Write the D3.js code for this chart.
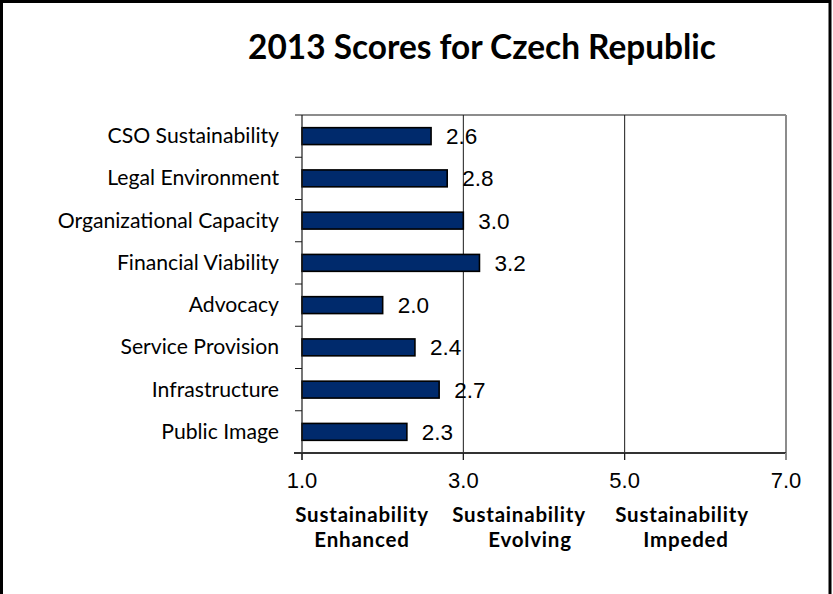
<!DOCTYPE html>
<html>
<head>
<meta charset="utf-8">
<script src="https://cdn.jsdelivr.net/npm/d3@7"></script>
<style>
  html, body { margin: 0; padding: 0; background: #fff; }
  svg { display: block; }
</style>
</head>
<body>
<svg id="chart" width="833" height="594"></svg>
<script>
// Dimension scores, top to bottom
const categories = [
  "CSO Sustainability",
  "Legal Environment",
  "Organizational Capacity",
  "Financial Viability",
  "Advocacy",
  "Service Provision",
  "Infrastructure",
  "Public Image"
];
const scores = [2.6, 2.8, 3.0, 3.2, 2.0, 2.4, 2.7, 2.3];
const xTicks = [1, 3, 5, 7];
const gridValues = [3, 5];
const zoneLabels = [
  ["Sustainability", "Enhanced"],
  ["Sustainability", "Evolving"],
  ["Sustainability", "Impeded"]
];
const titleText = "2013 Scores for Czech Republic";

const svg = d3.select("#chart");
const W = 833, H = 594;
const plot = { left: 302, right: 786, top: 115, bottom: 453 };

// Outer frame (open at the bottom edge)
svg.append("rect")
  .attr("x", 1.5).attr("y", 1.5)
  .attr("width", W - 4.5).attr("height", H + 10)
  .attr("fill", "#fff").attr("stroke", "#000").attr("stroke-width", 3);

// Title
svg.append("text")
  .attr("x", 482).attr("y", 59)
  .attr("text-anchor", "middle")
  .style("font-family", "Lato, 'Open Sans', sans-serif")
  .style("font-weight", 700)
  .style("font-size", "33.4px")
  .attr("fill", "#000")
  .text(titleText);

const x = d3.scaleLinear().domain([1, 7]).range([plot.left, plot.right]);
const y = d3.scaleBand().domain(categories)
  .range([plot.top, plot.bottom])
  .paddingInner(0.6).paddingOuter(0.3);

// Plot frame: top and right edges in grey
svg.append("line")
  .attr("x1", plot.left).attr("x2", plot.right)
  .attr("y1", plot.top).attr("y2", plot.top)
  .attr("stroke", "#8c8c8c").attr("stroke-width", 2);
svg.append("line")
  .attr("x1", plot.right).attr("x2", plot.right)
  .attr("y1", plot.top).attr("y2", plot.bottom + 7)
  .attr("stroke", "#8c8c8c").attr("stroke-width", 2);

// Vertical gridlines
svg.selectAll("line.grid").data(gridValues).enter().append("line")
  .attr("class", "grid")
  .attr("x1", d => x(d)).attr("x2", d => x(d))
  .attr("y1", plot.top).attr("y2", plot.bottom + 7)
  .attr("stroke", "#1a1a1a").attr("stroke-width", 1);

// Bars
svg.selectAll("rect.bar").data(scores).enter().append("rect")
  .attr("class", "bar")
  .attr("x", x(1))
  .attr("y", (d, i) => y(categories[i]))
  .attr("width", d => x(d) - x(1))
  .attr("height", y.bandwidth())
  .attr("fill", "#002a6c")
  .attr("stroke", "#000").attr("stroke-width", 1.6);

// Value labels
svg.selectAll("text.val").data(scores).enter().append("text")
  .attr("class", "val")
  .attr("x", d => x(d) + 15)
  .attr("y", (d, i) => y(categories[i]) + y.bandwidth() / 2 + 8)
  .style("font-family", "'Liberation Sans', Arial, sans-serif")
  .style("font-size", "22.5px")
  .attr("fill", "#000")
  .text(d => d.toFixed(1));

// Category axis
const bounds = d3.range(categories.length + 1).map(i => plot.top + i * (plot.bottom - plot.top) / categories.length);
svg.selectAll("line.ytick").data(bounds).enter().append("line")
  .attr("class", "ytick")
  .attr("x1", plot.left - 7).attr("x2", plot.left)
  .attr("y1", d => d).attr("y2", d => d)
  .attr("stroke", "#1a1a1a").attr("stroke-width", 1);
svg.append("line")
  .attr("x1", plot.left).attr("x2", plot.left)
  .attr("y1", plot.top).attr("y2", plot.bottom + 7)
  .attr("stroke", "#1a1a1a").attr("stroke-width", 1.2);

svg.selectAll("text.cat").data(categories).enter().append("text")
  .attr("class", "cat")
  .attr("x", 279)
  .attr("y", d => y(d) + y.bandwidth() / 2 + 7)
  .attr("text-anchor", "end")
  .style("font-family", "Lato, 'Open Sans', sans-serif")
  .style("font-size", "21.2px")
  .attr("fill", "#000")
  .text(d => d);

// Value axis
svg.append("line")
  .attr("x1", plot.left - 8).attr("x2", plot.right)
  .attr("y1", plot.bottom).attr("y2", plot.bottom)
  .attr("stroke", "#333").attr("stroke-width", 2);
svg.selectAll("line.xtick").data(xTicks).enter().append("line")
  .attr("class", "xtick")
  .attr("x1", d => x(d)).attr("x2", d => x(d))
  .attr("y1", plot.bottom).attr("y2", plot.bottom + 7)
  .attr("stroke", d => d === 7 ? "#8c8c8c" : "#1a1a1a")
  .attr("stroke-width", d => d === 7 ? 2 : 1);
svg.selectAll("text.xlab").data(xTicks).enter().append("text")
  .attr("class", "xlab")
  .attr("x", d => x(d))
  .attr("y", 488)
  .attr("text-anchor", "middle")
  .style("font-family", "'Liberation Sans', Arial, sans-serif")
  .style("font-size", "22px")
  .attr("fill", "#000")
  .text(d => d.toFixed(1));

// Zone captions beneath the axis, two lines each
const zoneCenters = [[362, 362], [519, 530], [682, 686]];
const captions = svg.selectAll("text.zone").data(zoneLabels).enter().append("text")
  .attr("class", "zone")
  .attr("text-anchor", "middle")
  .style("font-family", "Lato, 'Open Sans', sans-serif")
  .style("font-weight", 700)
  .style("font-size", "20.5px")
  .style("letter-spacing", "0.8px")
  .attr("fill", "#000");
captions.each(function(lines, i) {
  d3.select(this).selectAll("tspan").data(lines).enter().append("tspan")
    .attr("x", (t, j) => zoneCenters[i][j])
    .attr("y", (t, j) => 521.5 + j * 25)
    .text(t => t);
});
</script>
</body>
</html>
